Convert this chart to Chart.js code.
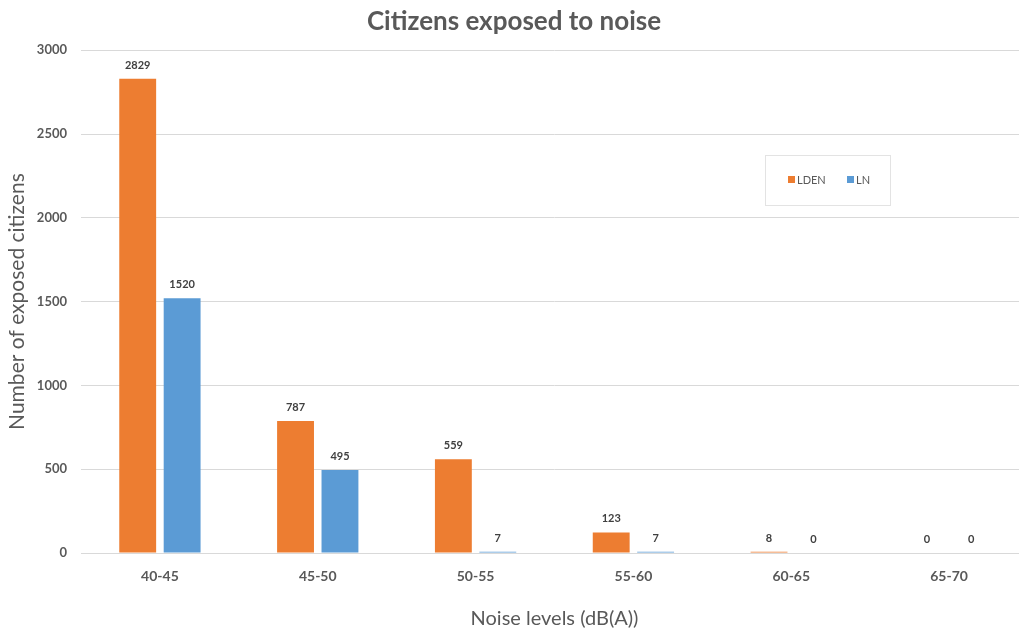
<!DOCTYPE html>
<html>
<head>
<meta charset="utf-8">
<script src="https://cdn.jsdelivr.net/npm/chart.js@4/dist/chart.umd.min.js"></script>
<style>
  html, body { margin: 0; padding: 0; background: #fff; overflow: hidden; }
  #wrap { width: 1035px; height: 635px; }
</style>
</head>
<body>
<div id="wrap"><canvas id="chart"></canvas></div>
<script>
// data
const categories = ['40-45', '45-50', '50-55', '55-60', '60-65', '65-70'];
const ldenValues = [2829, 787, 559, 123, 8, 0];
const lnValues = [1520, 495, 7, 7, 0, 0];
const yTicks = [0, 500, 1000, 1500, 2000, 2500, 3000];

const FONT = 'Lato, "Open Sans", sans-serif';
const TEXT = '#595959';

// value labels above every bar
const barLabels = {
  id: 'barLabels',
  afterDatasetsDraw(chart) {
    const ctx = chart.ctx;
    ctx.save();
    ctx.font = 'bold 11px ' + FONT;
    ctx.fillStyle = '#404040';
    ctx.textAlign = 'center';
    ctx.textBaseline = 'bottom';
    chart.data.datasets.forEach((ds, i) => {
      chart.getDatasetMeta(i).data.forEach((bar, j) => {
        ctx.fillText(ds.data[j], bar.x, bar.y - 8);
      });
    });
    ctx.restore();
  }
};

// boxed legend inside the plot, top right
const boxLegend = {
  id: 'boxLegend',
  afterDraw(chart) {
    const ctx = chart.ctx;
    const x = 765, y = 155, w = 125, h = 50;
    ctx.save();
    ctx.fillStyle = '#fff';
    ctx.fillRect(x, y, w, h);
    ctx.strokeStyle = '#e3e3e3';
    ctx.lineWidth = 1;
    ctx.strokeRect(x + 0.5, y + 0.5, w, h);
    ctx.font = '11px ' + FONT;
    ctx.textBaseline = 'middle';
    const items = [[788, chart.data.datasets[0]], [847, chart.data.datasets[1]]];
    items.forEach(([ix, ds]) => {
      ctx.fillStyle = ds.backgroundColor;
      ctx.fillRect(ix, y + 21, 7, 7);
      ctx.fillStyle = TEXT;
      ctx.textAlign = 'left';
      ctx.fillText(ds.label, ix + 9, y + 25);
    });
    ctx.restore();
  }
};

new Chart(document.getElementById('chart'), {
  type: 'bar',
  data: {
    labels: categories,
    datasets: [
      { label: 'LDEN', data: ldenValues, backgroundColor: '#ED7D31' },
      { label: 'LN', data: lnValues, backgroundColor: '#5B9BD5' }
    ]
  },
  options: {
    responsive: true,
    maintainAspectRatio: false,
    animation: false,
    categoryPercentage: 0.563,
    barPercentage: 0.83,
    layout: { padding: { left: 0, right: 7, top: 0, bottom: 0 } },
    plugins: {
      legend: { display: false },
      tooltip: { enabled: false },
      title: {
        display: true,
        text: 'Citizens exposed to noise',
        color: TEXT,
        font: { family: FONT, size: 26, weight: 'bold' },
        padding: { top: 6, bottom: 13 }
      }
    },
    scales: {
      x: {
        grid: { display: false, drawTicks: false },
        border: { color: '#d9d9d9' },
        ticks: { color: TEXT, font: { family: FONT, size: 14, weight: 'bold' }, padding: 15 },
        title: {
          display: true,
          text: 'Noise levels (dB(A))',
          color: TEXT,
          font: { family: FONT, size: 20 },
          padding: { top: 17 }
        },
        afterFit: s => { s.height = 82; }
      },
      y: {
        min: 0,
        max: 3000,
        afterBuildTicks: s => { s.ticks = yTicks.map(v => ({ value: v })); },
        grid: { color: '#d9d9d9', drawTicks: false },
        border: { display: false },
        ticks: {
          color: TEXT,
          font: { family: FONT, size: 13, weight: 'bold' },
          padding: 14,
          callback: v => String(v)
        },
        title: {
          display: true,
          text: 'Number of exposed citizens',
          color: TEXT,
          font: { family: FONT, size: 21 },
          padding: { top: 5, bottom: 4 }
        },
        afterFit: s => { s.width = 81; }
      }
    }
  },
  plugins: [barLabels, boxLegend]
});
</script>
</body>
</html>
